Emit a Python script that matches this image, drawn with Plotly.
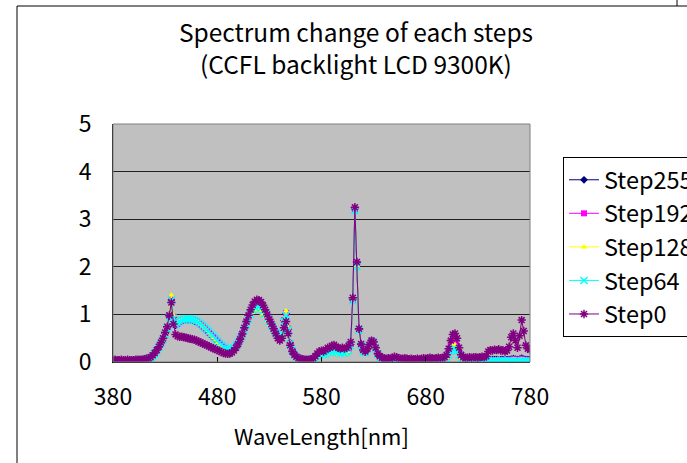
import plotly.graph_objects as go

# Wavelength grid (nm), 2 nm steps
wavelength = list(range(380, 781, 2))

step255 = [
    0.03, 0.02, 0.03, 0.03, 0.02, 0.03, 0.03, 0.02, 0.03, 0.03,
    0.03, 0.03, 0.04, 0.04, 0.04, 0.05, 0.06, 0.07, 0.09, 0.13,
    0.18, 0.24, 0.31, 0.40, 0.49, 0.60, 0.72, 0.96, 1.30, 0.93,
    0.77, 0.79, 0.83, 0.86, 0.88, 0.89, 0.89, 0.89, 0.88, 0.86,
    0.84, 0.81, 0.78, 0.74, 0.70, 0.66, 0.61, 0.57, 0.52, 0.48,
    0.43, 0.39, 0.34, 0.30, 0.27, 0.25, 0.24, 0.25, 0.28, 0.33,
    0.41, 0.50, 0.61, 0.72, 0.84, 0.96, 1.07, 1.16, 1.23, 1.27,
    1.26, 1.22, 1.15, 1.07, 0.98, 0.88, 0.79, 0.71, 0.63, 0.57,
    0.53, 0.60, 0.87, 1.02, 0.69, 0.40, 0.25, 0.16, 0.11, 0.08,
    0.06, 0.05, 0.04, 0.04, 0.04, 0.04, 0.05, 0.08, 0.13, 0.17,
    0.19, 0.18, 0.21, 0.23, 0.24, 0.26, 0.27, 0.25, 0.23, 0.22,
    0.23, 0.22, 0.24, 0.28, 0.37, 1.32, 3.22, 2.08, 0.69, 0.37,
    0.23, 0.21, 0.27, 0.36, 0.45, 0.43, 0.30, 0.17, 0.10, 0.07,
    0.06, 0.05, 0.06, 0.06, 0.07, 0.08, 0.07, 0.06, 0.05, 0.05,
    0.06, 0.05, 0.05, 0.05, 0.04, 0.04, 0.05, 0.05, 0.05, 0.05,
    0.05, 0.05, 0.06, 0.05, 0.05, 0.05, 0.06, 0.05, 0.06, 0.07,
    0.11, 0.21, 0.33, 0.42, 0.44, 0.35, 0.21, 0.10, 0.06, 0.05,
    0.05, 0.04, 0.05, 0.05, 0.04, 0.05, 0.05, 0.04, 0.05, 0.05,
    0.05, 0.04, 0.05, 0.05, 0.05, 0.04, 0.05, 0.05, 0.04, 0.05,
    0.05, 0.06, 0.07, 0.06, 0.05, 0.06, 0.08, 0.06, 0.05, 0.05,
    0.05,
]

step192 = [
    0.03, 0.03, 0.02, 0.03, 0.03, 0.02, 0.03, 0.03, 0.02, 0.03,
    0.03, 0.03, 0.03, 0.04, 0.04, 0.05, 0.06, 0.07, 0.09, 0.13,
    0.18, 0.24, 0.31, 0.40, 0.49, 0.60, 0.73, 0.98, 1.33, 0.95,
    0.78, 0.80, 0.84, 0.87, 0.89, 0.90, 0.90, 0.90, 0.89, 0.87,
    0.85, 0.82, 0.79, 0.75, 0.71, 0.67, 0.62, 0.58, 0.53, 0.49,
    0.44, 0.40, 0.35, 0.31, 0.28, 0.26, 0.25, 0.26, 0.29, 0.34,
    0.41, 0.50, 0.60, 0.71, 0.83, 0.95, 1.05, 1.14, 1.21, 1.25,
    1.24, 1.20, 1.13, 1.05, 0.96, 0.87, 0.78, 0.70, 0.63, 0.57,
    0.53, 0.60, 0.88, 1.03, 0.70, 0.40, 0.25, 0.16, 0.11, 0.08,
    0.06, 0.05, 0.04, 0.04, 0.04, 0.04, 0.05, 0.08, 0.13, 0.16,
    0.18, 0.17, 0.20, 0.22, 0.23, 0.25, 0.26, 0.24, 0.22, 0.21,
    0.22, 0.21, 0.23, 0.27, 0.36, 1.30, 3.20, 2.05, 0.68, 0.36,
    0.22, 0.20, 0.27, 0.36, 0.45, 0.43, 0.30, 0.17, 0.10, 0.07,
    0.06, 0.05, 0.06, 0.05, 0.07, 0.08, 0.07, 0.06, 0.05, 0.05,
    0.06, 0.05, 0.04, 0.05, 0.04, 0.04, 0.05, 0.04, 0.05, 0.05,
    0.05, 0.05, 0.06, 0.05, 0.05, 0.05, 0.06, 0.05, 0.06, 0.07,
    0.10, 0.20, 0.32, 0.40, 0.42, 0.34, 0.20, 0.10, 0.06, 0.05,
    0.04, 0.04, 0.04, 0.04, 0.04, 0.04, 0.04, 0.04, 0.04, 0.04,
    0.04, 0.04, 0.04, 0.04, 0.04, 0.04, 0.04, 0.04, 0.04, 0.04,
    0.04, 0.05, 0.06, 0.05, 0.04, 0.05, 0.07, 0.05, 0.04, 0.04,
    0.04,
]

step128 = [
    0.03, 0.03, 0.03, 0.02, 0.03, 0.03, 0.03, 0.02, 0.03, 0.03,
    0.03, 0.03, 0.03, 0.03, 0.04, 0.05, 0.05, 0.07, 0.09, 0.12,
    0.17, 0.23, 0.30, 0.39, 0.49, 0.61, 0.75, 1.02, 1.40, 0.98,
    0.80, 0.82, 0.86, 0.89, 0.91, 0.92, 0.92, 0.91, 0.90, 0.88,
    0.86, 0.83, 0.79, 0.75, 0.71, 0.66, 0.61, 0.56, 0.51, 0.46,
    0.41, 0.37, 0.33, 0.29, 0.26, 0.24, 0.24, 0.25, 0.28, 0.32,
    0.38, 0.46, 0.55, 0.65, 0.76, 0.86, 0.96, 1.04, 1.10, 1.13,
    1.12, 1.08, 1.02, 0.95, 0.87, 0.79, 0.72, 0.65, 0.59, 0.54,
    0.51, 0.60, 0.90, 1.07, 0.72, 0.40, 0.24, 0.15, 0.10, 0.07,
    0.05, 0.04, 0.03, 0.03, 0.03, 0.03, 0.04, 0.06, 0.10, 0.12,
    0.14, 0.13, 0.15, 0.17, 0.18, 0.19, 0.20, 0.18, 0.16, 0.16,
    0.17, 0.16, 0.18, 0.22, 0.32, 1.30, 3.22, 2.02, 0.66, 0.33,
    0.20, 0.18, 0.26, 0.36, 0.47, 0.44, 0.30, 0.16, 0.09, 0.06,
    0.05, 0.04, 0.05, 0.04, 0.05, 0.06, 0.05, 0.04, 0.04, 0.04,
    0.04, 0.04, 0.03, 0.04, 0.03, 0.03, 0.04, 0.03, 0.04, 0.04,
    0.04, 0.04, 0.05, 0.04, 0.04, 0.04, 0.05, 0.04, 0.05, 0.06,
    0.09, 0.17, 0.28, 0.34, 0.36, 0.29, 0.17, 0.08, 0.05, 0.04,
    0.03, 0.03, 0.03, 0.03, 0.03, 0.03, 0.03, 0.03, 0.03, 0.03,
    0.03, 0.03, 0.03, 0.03, 0.03, 0.03, 0.03, 0.03, 0.03, 0.03,
    0.03, 0.04, 0.05, 0.04, 0.03, 0.04, 0.05, 0.04, 0.03, 0.03,
    0.03,
]

step64 = [
    0.02, 0.02, 0.02, 0.02, 0.02, 0.02, 0.02, 0.02, 0.02, 0.02,
    0.02, 0.02, 0.02, 0.03, 0.03, 0.04, 0.05, 0.06, 0.08, 0.11,
    0.16, 0.22, 0.29, 0.38, 0.47, 0.58, 0.70, 0.94, 1.30, 0.92,
    0.79, 0.82, 0.85, 0.88, 0.90, 0.91, 0.91, 0.91, 0.90, 0.88,
    0.86, 0.83, 0.80, 0.76, 0.72, 0.68, 0.64, 0.59, 0.55, 0.50,
    0.45, 0.40, 0.36, 0.32, 0.29, 0.27, 0.26, 0.27, 0.30, 0.35,
    0.41, 0.49, 0.58, 0.68, 0.79, 0.90, 1.00, 1.09, 1.15, 1.18,
    1.17, 1.13, 1.07, 1.00, 0.92, 0.84, 0.76, 0.69, 0.62, 0.57,
    0.54, 0.60, 0.85, 0.98, 0.68, 0.39, 0.24, 0.15, 0.10, 0.07,
    0.05, 0.04, 0.03, 0.03, 0.03, 0.04, 0.05, 0.07, 0.12, 0.15,
    0.17, 0.16, 0.18, 0.20, 0.21, 0.23, 0.24, 0.22, 0.20, 0.19,
    0.20, 0.19, 0.21, 0.25, 0.34, 1.28, 3.18, 2.00, 0.66, 0.34,
    0.21, 0.19, 0.26, 0.35, 0.44, 0.42, 0.29, 0.16, 0.09, 0.06,
    0.04, 0.04, 0.04, 0.03, 0.05, 0.05, 0.04, 0.04, 0.03, 0.03,
    0.03, 0.03, 0.03, 0.03, 0.03, 0.03, 0.03, 0.03, 0.03, 0.03,
    0.03, 0.03, 0.04, 0.03, 0.03, 0.03, 0.04, 0.03, 0.04, 0.05,
    0.08, 0.14, 0.22, 0.27, 0.28, 0.23, 0.14, 0.07, 0.04, 0.03,
    0.02, 0.02, 0.02, 0.02, 0.02, 0.02, 0.02, 0.02, 0.02, 0.02,
    0.02, 0.02, 0.02, 0.02, 0.02, 0.02, 0.02, 0.02, 0.02, 0.02,
    0.02, 0.02, 0.02, 0.02, 0.02, 0.02, 0.02, 0.02, 0.02, 0.02,
    0.02,
]

step0 = [
    0.04, 0.05, 0.04, 0.04, 0.05, 0.04, 0.04, 0.05, 0.04, 0.04,
    0.04, 0.05, 0.05, 0.05, 0.05, 0.06, 0.07, 0.08, 0.10, 0.14,
    0.19, 0.25, 0.32, 0.41, 0.50, 0.62, 0.74, 0.98, 1.25, 0.80,
    0.58, 0.54, 0.53, 0.53, 0.52, 0.51, 0.50, 0.49, 0.48, 0.47,
    0.45, 0.43, 0.41, 0.39, 0.37, 0.35, 0.33, 0.31, 0.29, 0.27,
    0.25, 0.23, 0.21, 0.19, 0.18, 0.17, 0.18, 0.20, 0.24, 0.30,
    0.38, 0.48, 0.59, 0.72, 0.85, 0.98, 1.10, 1.20, 1.27, 1.31,
    1.30, 1.26, 1.19, 1.10, 1.00, 0.90, 0.80, 0.70, 0.60, 0.50,
    0.45, 0.50, 0.72, 0.85, 0.60, 0.35, 0.22, 0.15, 0.11, 0.08,
    0.07, 0.06, 0.05, 0.05, 0.05, 0.06, 0.08, 0.12, 0.18, 0.22,
    0.24, 0.22, 0.26, 0.30, 0.30, 0.34, 0.36, 0.32, 0.30, 0.28,
    0.30, 0.28, 0.30, 0.34, 0.42, 1.35, 3.25, 2.10, 0.70, 0.38,
    0.25, 0.22, 0.28, 0.36, 0.45, 0.42, 0.30, 0.18, 0.12, 0.09,
    0.08, 0.07, 0.08, 0.07, 0.09, 0.11, 0.10, 0.08, 0.07, 0.07,
    0.08, 0.07, 0.06, 0.07, 0.06, 0.06, 0.07, 0.06, 0.07, 0.08,
    0.07, 0.08, 0.09, 0.08, 0.07, 0.08, 0.09, 0.08, 0.09, 0.10,
    0.15, 0.28, 0.45, 0.58, 0.60, 0.50, 0.30, 0.15, 0.10, 0.09,
    0.09, 0.10, 0.09, 0.10, 0.10, 0.09, 0.10, 0.11, 0.10, 0.12,
    0.22, 0.25, 0.24, 0.26, 0.25, 0.27, 0.24, 0.25, 0.22, 0.24,
    0.32, 0.52, 0.60, 0.45, 0.30, 0.55, 0.88, 0.65, 0.35, 0.28,
    0.26,
]

series_names = ["Step255", "Step192", "Step128", "Step64", "Step0"]
series_values = [step255, step192, step128, step64, step0]
colors = ["#000080", "#FF00FF", "#FFFF00", "#00FFFF", "#800080"]
symbols = ["diamond", "square", "triangle-up", "x-thin-open", "asterisk-open"]

x_ticks = [380, 480, 580, 680, 780]
y_ticks = [0, 1, 2, 3, 4, 5]

FONT = "Noto Sans CJK JP"

fig = go.Figure()
for name, vals, col, sym in zip(series_names, series_values, colors, symbols):
    open_sym = sym.endswith("open")
    fig.add_trace(go.Scatter(
        x=wavelength, y=vals, name=name, mode="lines+markers",
        line=dict(color=col, width=1),
        marker=dict(symbol=sym, size=7 if open_sym else 6, color=col,
                    line=dict(color=col, width=1.5 if open_sym else 0)),
    ))

W, H = 687, 463
L, R, T, B = 113, 530, 124, 362  # plot area pixel box

def px_x(p):
    return (p - L) / (R - L)

def px_y(p):
    return (B - p) / (B - T)

shapes = [
    dict(type="rect", xref="paper", yref="paper", x0=0, x1=1, y0=0, y1=1,
         line=dict(color="#808080", width=1), layer="above"),
    dict(type="line", xref="paper", yref="paper", x0=px_x(17), x1=px_x(690),
         y0=px_y(6), y1=px_y(6), line=dict(color="#000000", width=1)),
    dict(type="line", xref="paper", yref="paper", x0=px_x(17), x1=px_x(17),
         y0=px_y(6), y1=px_y(470), line=dict(color="#000000", width=1)),
    dict(type="line", xref="paper", yref="paper", x0=px_x(677), x1=px_x(677),
         y0=px_y(-2), y1=px_y(6), line=dict(color="#000000", width=1)),
]

fig.update_layout(
    width=W, height=H,
    margin=dict(l=L, r=W - R, t=T, b=H - B, autoexpand=False),
    paper_bgcolor="white",
    plot_bgcolor="#C0C0C0",
    font=dict(family=FONT, color="black", size=22),
    title=dict(text="Spectrum change of each steps<br>(CCFL backlight LCD 9300K)",
               x=356 / W, xanchor="center", yref="container",
               y=1 - 42 / H, yanchor="middle",
               font=dict(family=FONT, size=24.5, color="black")),
    showlegend=True,
    legend=dict(x=px_x(563), xanchor="left", y=px_y(157), yanchor="top",
                bgcolor="white", bordercolor="#000000", borderwidth=1,
                font=dict(family=FONT, size=23.5, color="black"),
                itemwidth=30),
    shapes=shapes,
)

fig.update_xaxes(
    range=[380, 780], tickvals=x_ticks, ticktext=[str(v) for v in x_ticks],
    showgrid=False, zeroline=False,
    showline=True, linecolor="black", linewidth=1,
    ticks="inside", ticklen=5, tickcolor="black",
    tickfont=dict(family=FONT, size=23), ticklabelstandoff=14,
    title=dict(text="WaveLength[nm]", font=dict(family=FONT, size=22), standoff=19),
)
fig.update_yaxes(
    range=[0, 5], tickvals=y_ticks, ticktext=[str(v) for v in y_ticks],
    showgrid=True, gridcolor="#202020", gridwidth=1, zeroline=False,
    showline=True, linecolor="black", linewidth=1,
    ticks="", tickfont=dict(family=FONT, size=23), ticklabelstandoff=16,
)

fig.write_html("out.html", config={"displayModeBar": False},
               post_script="document.body.style.margin='0px';")
